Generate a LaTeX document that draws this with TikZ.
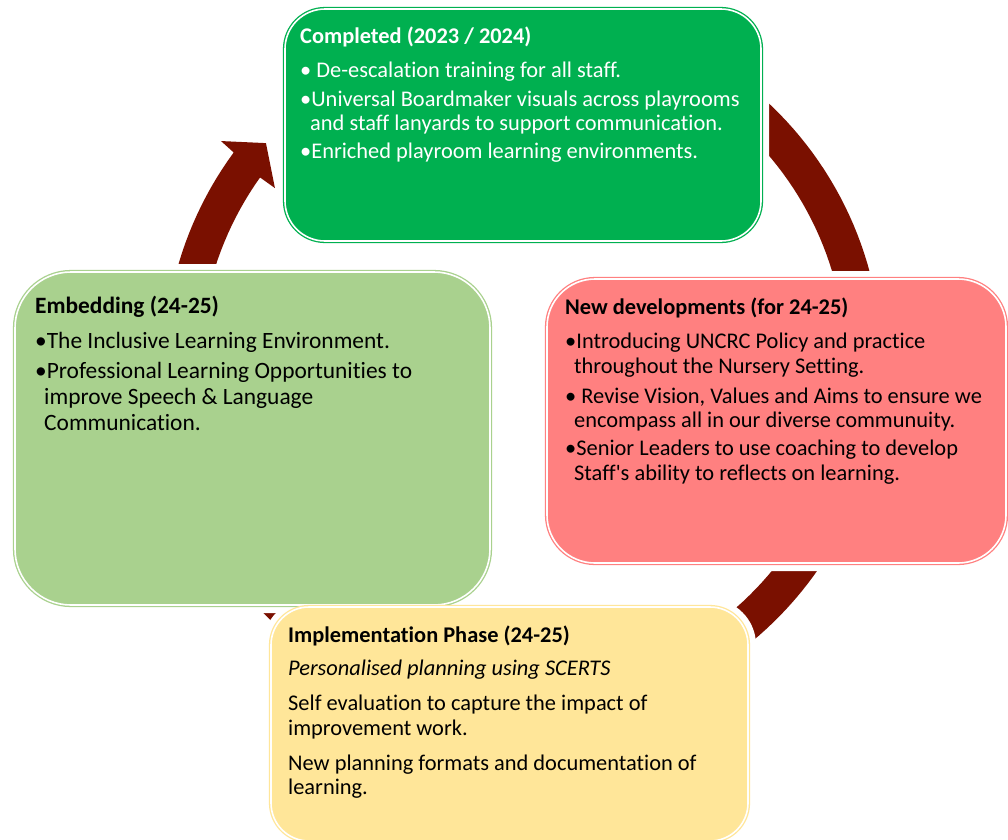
\documentclass[tikz,border=0pt]{standalone}
\usepackage{fontspec}
\setmainfont{Carlito}[Ligatures={TeXOff,CommonOff}]
\definecolor{gbox}{HTML}{00B050}
\definecolor{ebox}{HTML}{A9D18E}
\definecolor{rbox}{HTML}{FF8080}
\definecolor{ybox}{HTML}{FFE699}
\definecolor{arrowc}{HTML}{7A1000}
\begin{document}
\begin{tikzpicture}[x=1pt,y=-1pt,
  halo/.style={rectangle, draw=white, line width=16pt, inner sep=0pt},
  box/.style={rectangle, draw=#1, fill=#1, double=white, double distance=1.6pt, line width=1.3pt, inner sep=0pt},
  txt/.style={anchor=base west, inner sep=0pt, font=\fontsize{22.4}{24}\selectfont},
  ttl/.style={txt, font=\fontsize{22.4}{24}\selectfont\bfseries},
  etxt/.style={txt, font=\fontsize{23.4}{26}\selectfont},
  ettl/.style={txt, font=\fontsize{23.4}{26}\selectfont\bfseries},
  wtxt/.style={txt, text=white},
  wttl/.style={ttl, text=white},
  gshape/.style={rounded corners=40pt, minimum width=476pt, minimum height=232pt},
  eshape/.style={rounded corners=56pt, minimum width=475pt, minimum height=333pt},
  rshape/.style={rounded corners=48pt, minimum width=459pt, minimum height=284pt},
  yshape/.style={rounded corners=38pt, minimum width=477pt, minimum height=234pt}
]
\useasboundingbox (0,0) rectangle (1008,839);

% cycle arrow
\fill[arrowc] plot[domain=250:576.3,samples=200] ({523+359*cos(\x)},{365+359*sin(\x)})
  -- ({523+376*cos(216.56)},{365+376*sin(216.56)})
  -- ({523+339.6*cos(220.8)},{365+339.6*sin(220.8)})
  -- ({523+304.7*cos(215.5)},{365+304.7*sin(215.5)})
  -- plot[domain=575.5:250,samples=200] ({523+323*cos(\x)},{365+323*sin(\x)}) -- cycle;

% white halos round the boxes
\node[halo, gshape] (gh) at (523,125) {};
\node[halo, eshape] (eh) at (252.5,438.5) {};
\node[halo, rshape] (rh) at (776.5,421) {};
\node[halo, yshape] (yh) at (509.5,724) {};

% boxes
\node[box=gbox, gshape] (g) at (523,125) {};
\node[box=ebox, eshape] (e) at (252.5,438.5) {};
\node[box=rbox, rshape] (r) at (776.5,421) {};
\node[box=ybox, yshape] (y) at (509.5,724) {};

% green text
\node[wttl] (g0) at (300,43) {Completed (2023 / 2024)};
\node[wtxt] (g1) at (300,77) {• De-escalation training for all staff.};
\node[wtxt] (g2) at (300,106) {•Universal Boardmaker visuals across playrooms};
\node[wtxt] (g3) at (310,130) {and staff lanyards to support communication.};
\node[wtxt] (g4) at (300,158) {•Enriched playroom learning environments.};

% embedding text
\node[ettl] (e0) at (35,313) {Embedding (24-25)};
\node[etxt] (e1) at (35,348) {•The Inclusive Learning Environment.};
\node[etxt] (e2) at (35,378) {•Professional Learning Opportunities to};
\node[etxt] (e3) at (44,404) {improve Speech \& Language};
\node[etxt] (e4) at (44,430) {Communication.};

% red text
\node[ttl] (r0) at (565,314) {New developments (for 24-25)};
\node[txt] (r1) at (565,348) {•Introducing UNCRC Policy and practice};
\node[txt] (r2) at (574,373) {throughout the Nursery Setting.};
\node[txt] (r3) at (565,403) {• Revise Vision, Values and Aims to ensure we};
\node[txt] (r4) at (574,427) {encompass all in our diverse communuity.};
\node[txt] (r5) at (565,455) {•Senior Leaders to use coaching to develop};
\node[txt] (r6) at (574,480) {Staff's ability to reflects on learning.};

% yellow text
\node[ttl] (y0) at (288,642) {Implementation Phase (24-25)};
\node[txt, font=\fontsize{22.4}{24}\selectfont\itshape] (y1) at (288,675) {Personalised planning using SCERTS};
\node[txt] (y2) at (288,710) {Self evaluation to capture the impact of};
\node[txt] (y3) at (288,735) {improvement work.};
\node[txt] (y4) at (288,770) {New planning formats and documentation of};
\node[txt] (y5) at (288,794) {learning.};
\end{tikzpicture}
\end{document}
